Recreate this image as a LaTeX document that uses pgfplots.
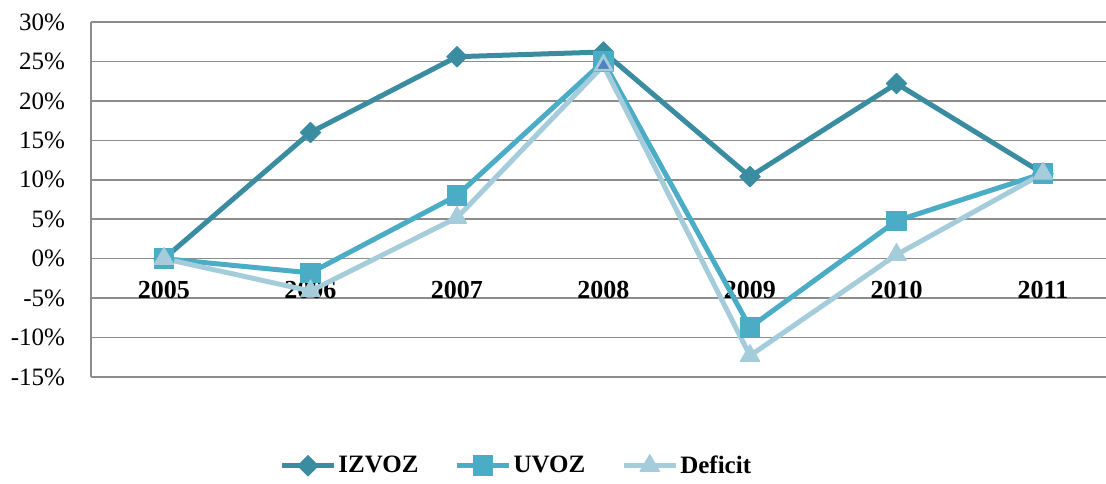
\documentclass[border=0pt]{standalone}
\usepackage{pgfplots}
\pgfplotsset{compat=1.18}
\usepackage{fontspec}
\setmainfont{Liberation Serif}
\definecolor{izvoz}{RGB}{58,140,160}
\definecolor{uvoz}{RGB}{75,172,198}
\definecolor{deficit}{RGB}{165,204,218}
\definecolor{special}{RGB}{85,128,192}
\definecolor{gridc}{RGB}{140,140,140}
\begin{document}
\begin{tikzpicture}
\begin{axis}[
  at={(45.5pt,53pt)}, anchor=south west,
  scale only axis, width=507.5pt, height=177.5pt,
  xmin=-0.498, xmax=6.43,
  ymin=-15, ymax=30,
  axis x line*=middle, axis y line*=left,
  axis line style={-, draw=gridc, line width=0.8pt},
  x axis line style={draw=none},
  ymajorgrids, grid style={draw=gridc, line width=0.8pt},
  major tick length=0pt,
  xtick={0,1,2,3,4,5,6},
  xticklabels={2005,2006,2007,2008,2009,2010,2011},
  xticklabel style={font=\fontsize{13}{15}\selectfont\bfseries, yshift=-7.5pt},
  ytick={-15,-10,-5,0,5,10,15,20,25,30},
  yticklabels={-15\%,-10\%,-5\%,0\%,5\%,10\%,15\%,20\%,25\%,30\%},
  yticklabel style={font=\fontsize{12.5}{14}\selectfont, xshift=-9.5pt},
  legend style={at={(axis description cs:0.419,-0.25)}, anchor=center, draw=none,
    legend columns=-1, font=\fontsize{12.5}{14}\selectfont\bfseries,
    /tikz/every even column/.append style={column sep=17pt},
    /tikz/every odd column/.append style={}, nodes={inner xsep=1pt}},
  legend image code/.code={\draw[mark repeat=2,mark phase=2,#1] plot coordinates {(0pt,0pt)(13pt,0pt)(26pt,0pt)};},
  every axis plot/.append style={line width=2.5pt, line join=round},
  clip=false,
]
\addplot[color=izvoz, mark=square*, mark size=3.6pt, mark options={rotate=45, line width=0.5pt}]
  coordinates {(0,0) (1,16.0) (2,25.6) (3,26.2) (4,10.4) (5,22.2) (6,10.8)};
\addlegendentry{IZVOZ}
\addplot[color=uvoz, mark=square*, mark size=4.9pt, mark options={line width=0.5pt}]
  coordinates {(0,0) (1,-1.8) (2,8.0) (3,25.0) (4,-8.7) (5,4.8) (6,10.8)};
\addlegendentry{UVOZ}
\addplot[color=deficit, mark=triangle*, mark size=5.6pt, mark options={line width=0.5pt}]
  coordinates {(0,0) (1,-4.1) (2,5.2) (3,24.5) (4,-12.3) (5,0.5) (6,10.8)};
\addlegendentry{Deficit}
\addplot[forget plot, only marks, mark=triangle*, mark size=4.4pt, draw=deficit, fill=special, mark options={line width=1pt}]
  coordinates {(3,24.5)};
\end{axis}
\pgfresetboundingbox
\path (0,0) rectangle (553pt,241.5pt);
\end{tikzpicture}
\end{document}
